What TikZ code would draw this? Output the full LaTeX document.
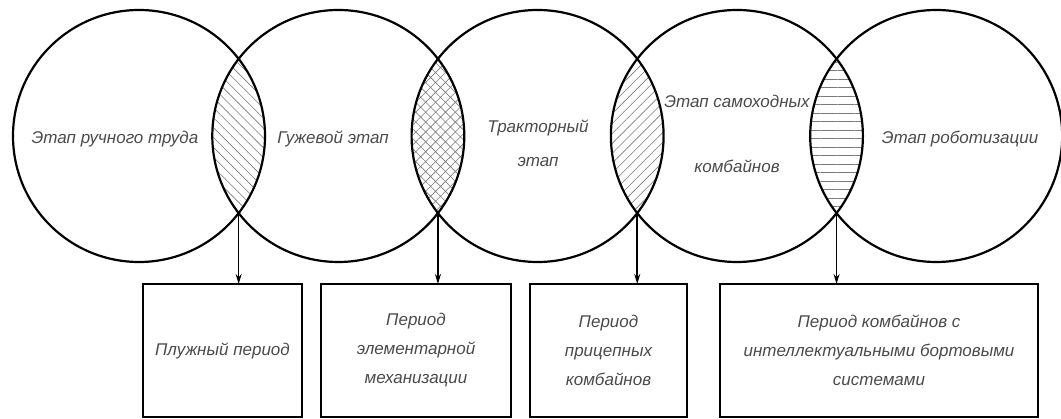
\documentclass[tikz,border=0pt]{standalone}
\usepackage{fontspec}
\setmainfont{Liberation Sans}
\usepackage{tikz}
\usetikzlibrary{arrows.meta,positioning,patterns.meta,backgrounds}
\definecolor{inkgray}{HTML}{4A4A4A}
\definecolor{hatchgray}{HTML}{7A7A7A}

\begin{document}
\begin{tikzpicture}[x=1pt,y=-1pt,
			stage/.style={draw=black,line width=2.2pt,circle,minimum size=252pt,inner sep=0pt,outer sep=0pt},
			lbl/.style={text=inkgray,align=center,font=\fontsize{17}{34}\selectfont\itshape},
			per/.style={draw=black,line width=2.2pt,minimum height=133pt,outer sep=0pt,inner sep=2pt,align=center,text=inkgray,font=\fontsize{17}{29}\selectfont\itshape},
			arr/.style={line width=1.6pt,-{Stealth[length=10pt,width=6pt]}}
			]
			\useasboundingbox (0,0) rectangle (1061,419);
			% stages
			\node[stage] (s1) at (139,136) {};
			\node[stage] (s2) [right=-52.7pt of s1] {};
			\node[stage] (s3) [right=-52.7pt of s2] {};
			\node[stage] (s4) [right=-52.7pt of s3] {};
			\node[stage] (s5) [right=-52.7pt of s4] {};
			\node[lbl] (l1) at (115,139) {Этап ручного труда};
			\node[lbl] (l2) at (333,139) {Гужевой этап};
			\node[lbl] (l3) at (538,143) {Тракторный\\этап};
			\node[lbl] (l4) at (737,134) {Этап самоходных\\[31pt]комбайнов};
			\node[lbl] (l5) at (960,139) {Этап роботизации};
			% overlaps
			\begin{scope}[on background layer]
				\begin{scope}
					\clip (s1.center) circle[radius=126pt];
					\fill[pattern={Lines[angle=-45,distance=7pt,line width=.6pt]},pattern color=hatchgray] (s2.center) circle[radius=126pt];
				\end{scope}
				\begin{scope}
					\clip (s2.center) circle[radius=126pt];
					\fill[pattern={Hatch[angle=45,distance=7pt,line width=.6pt]},pattern color=hatchgray] (s3.center) circle[radius=126pt];
				\end{scope}
				\begin{scope}
					\clip (s3.center) circle[radius=126pt];
					\fill[pattern={Lines[angle=45,distance=7pt,line width=.6pt]},pattern color=hatchgray] (s4.center) circle[radius=126pt];
				\end{scope}
				\begin{scope}
					\clip (s4.center) circle[radius=126pt];
					\fill[pattern={Lines[angle=0,distance=8.5pt,line width=.6pt]},pattern color=hatchgray] (s5.center) circle[radius=126pt];
				\end{scope}
			\end{scope}
			% periods
			\node[per,minimum width=159pt] (p1) at (222.5,350.5) {Плужный период};
			\node[per,minimum width=190pt] (p2) [right=19pt of p1] {Период\\элементарной\\механизации};
			\node[per,minimum width=157pt] (p3) [right=19pt of p2] {Период\\прицепных\\комбайнов};
			\node[per,minimum width=318pt] (p4) [right=33pt of p3] {Период комбайнов с\\интеллектуальными бортовыми\\системами};
			\path (s1.center) -- (s2.center) coordinate[midway] (m1);
			\path (s2.center) -- (s3.center) coordinate[midway] (m2);
			\path (s3.center) -- (s4.center) coordinate[midway] (m3);
			\path (s4.center) -- (s5.center) coordinate[midway] (m4);
			\coordinate (x1) at ([yshift=-77pt]m1);
			\coordinate (x2) at ([yshift=-77pt]m2);
			\coordinate (x3) at ([yshift=-77pt]m3);
			\coordinate (x4) at ([yshift=-77pt]m4);
			\draw[arr] (x1) -- (x1 |- p1.north);
			\draw[arr] (x2) -- (x2 |- p2.north);
			\draw[arr] (x3) -- (x3 |- p3.north);
			\draw[arr] (x4) -- (x4 |- p4.north);
		\end{tikzpicture}
\end{document}
